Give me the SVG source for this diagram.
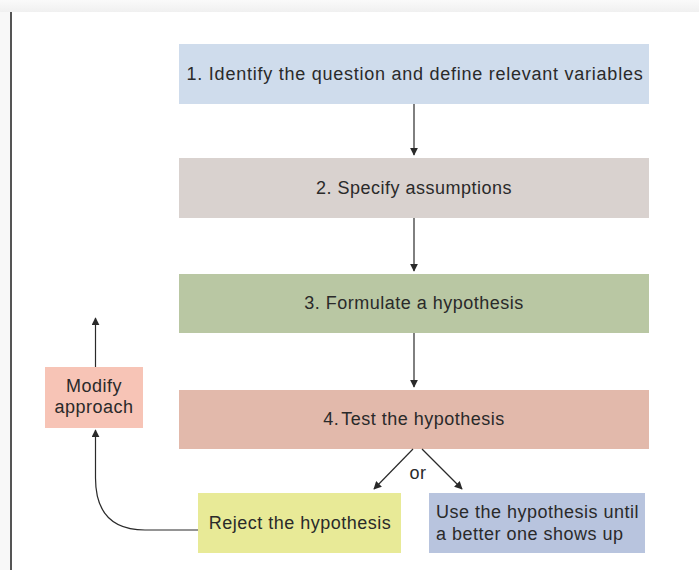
<svg xmlns="http://www.w3.org/2000/svg" width="699" height="570" viewBox="0 0 699 570">
<style>
text{font-family:"Liberation Sans",Arial,sans-serif;font-size:18px;letter-spacing:0.5px;fill:#2a2a2a}
.c{stroke:#2a2a2a;stroke-width:1.2;fill:none}
</style>
<defs>
<linearGradient id="tb" x1="0" y1="0" x2="0" y2="1"><stop offset="0" stop-color="#fafafa"/><stop offset="1" stop-color="#f0f0f0"/></linearGradient>
<marker id="a" viewBox="0 0 10 10" refX="9" refY="5" markerWidth="8" markerHeight="8" markerUnits="userSpaceOnUse" orient="auto"><path d="M0,0L10,5L0,10z" fill="#2a2a2a"/></marker>
</defs>
<rect x="0" y="0" width="699" height="570" fill="#fff"/>
<rect x="0" y="0" width="699" height="12" fill="url(#tb)"/>
<rect x="0" y="12" width="10" height="558" fill="#f8f8f8"/>
<line x1="11" y1="12" x2="11" y2="570" stroke="#555" stroke-width="2"/>
<g id="n1"><rect x="179" y="44" width="470" height="60" fill="#cfdcec"/><text x="415" y="80" text-anchor="middle" style="letter-spacing:0.75px">1. Identify the question and define relevant variables</text></g>
<g id="n2"><rect x="179" y="158" width="470" height="60" fill="#d9d2cf"/><text x="414" y="194" text-anchor="middle">2. Specify assumptions</text></g>
<g id="n3"><rect x="179" y="274" width="470" height="59" fill="#b9c7a3"/><text x="414" y="309" text-anchor="middle">3. Formulate a hypothesis</text></g>
<g id="n4"><rect x="179" y="390" width="470" height="59" fill="#e2b9ab"/><text x="414" y="425" text-anchor="middle">4.<tspan dx="2">Test the hypothesis</tspan></text></g>
<g id="n5"><rect x="45" y="367" width="98" height="61" fill="#f7c4b6"/><text x="94" y="392" text-anchor="middle">Modify</text><text x="94" y="413" text-anchor="middle">approach</text></g>
<g id="n6"><rect x="198" y="493" width="203" height="60" fill="#e8ea97"/><text x="300" y="529" text-anchor="middle">Reject the hypothesis</text></g>
<g id="n7"><rect x="429" y="493" width="216" height="60" fill="#b8c4de"/><text x="436" y="518">Use the hypothesis until</text><text x="436" y="540">a better one shows up</text></g>
<g id="connectors">
<line class="c" x1="414" y1="104" x2="414" y2="155" marker-end="url(#a)"/>
<line class="c" x1="414" y1="218" x2="414" y2="271" marker-end="url(#a)"/>
<line class="c" x1="414" y1="333" x2="414" y2="387" marker-end="url(#a)"/>
<line class="c" x1="413" y1="449" x2="374" y2="489" marker-end="url(#a)"/>
<line class="c" x1="422" y1="449" x2="462" y2="489" marker-end="url(#a)"/>
<line class="c" x1="95.5" y1="367" x2="95.5" y2="318" marker-end="url(#a)"/>
<path class="c" d="M198,530 L145,530 Q95.5,530 95.5,478 L95.5,430" marker-end="url(#a)"/>
<text x="418" y="479" text-anchor="middle">or</text>
</g>
</svg>
